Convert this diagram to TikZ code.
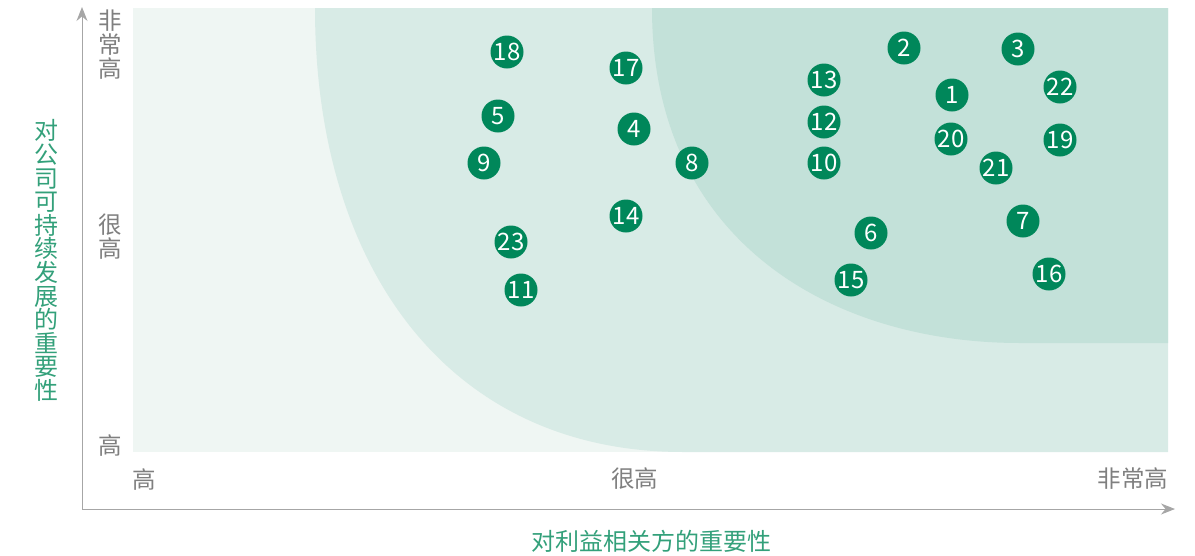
\documentclass[tikz,border=0pt]{standalone}
\usepackage{fontspec}
\setmainfont{Noto Sans CJK SC}
\usepackage{tikz}
\usetikzlibrary{arrows.meta,positioning}

\definecolor{OuterBg}{HTML}{EFF6F3}
\definecolor{MiddleBg}{HTML}{D8EBE6}
\definecolor{InnerBg}{HTML}{C3E1D9}
\definecolor{DotGreen}{HTML}{00875A}
\definecolor{TitleGreen}{HTML}{33A07A}
\definecolor{LabelGray}{HTML}{7F7F7F}
\definecolor{AxisGray}{HTML}{A6A6A6}

\begin{document}
\begin{tikzpicture}[x=1pt, y=-1pt]
		\tikzstyle{Issue}	= [circle, fill=DotGreen, text=white, minimum size=33pt, inner sep=0pt, font=\fontsize{24}{24}\selectfont]
		\tikzstyle{Level}	= [text=LabelGray, inner sep=0pt, align=center, font=\fontsize{23.5}{24}\selectfont]
		\tikzstyle{Title}	= [text=TitleGreen, inner sep=0pt, align=center, font=\fontsize{24}{23.6}\selectfont]
		\tikzstyle{Axis}	= [AxisGray, line width=1pt]
		
		\useasboundingbox (0,0) rectangle (1195,555);
		
		% zones
		\fill [OuterBg] (133,8) rectangle (1168,452);
		\fill [MiddleBg] (315,8) .. controls (315,270) and (450,452) .. (683,452) -- (1168,452) -- (1168,8) -- cycle;
		\fill [InnerBg] (652,8) .. controls (652,240) and (830,343) .. (1020,343) -- (1168,343) -- (1168,8) -- cycle;
		
		% axes
		\coordinate (ytip) at (82,7);
		\coordinate (xtip) at (1175,509);
		\draw [Axis, {Stealth[length=14pt,width=11pt]}-{Stealth[length=14pt,width=11pt]}] (ytip) |- (xtip);
		
		\node (yhigh) at (110,237) [Level] {很\\高};
		\node (yvery) at (110,44.5) [Level] {非\\常\\高};
		\node (ylow) at (110,445.5) [Level] {高};
		\node (xlow) at (144,480) [Level] {高};
		\node (xhigh) at (634.5,479) [Level] {很高};
		\node (xvery) at (1133,479) [Level] {非常高};
		
		\node (ytitle) at (46.5,260.5) [Title] {对\\公\\司\\可\\持\\续\\发\\展\\的\\重\\要\\性};
		\node (xtitle) at (651.5,541.5) [Title] {对利益相关方的重要性};
		
		% issues
		\node (i1) at (952,95) [Issue] {1};
		\node (i2) at (904,48) [Issue] {2};
		\node (i3) at (1018,49) [Issue] {3};
		\node (i4) at (634,129) [Issue] {4};
		\node (i5) at (498,116) [Issue] {5};
		\node (i6) at (871,233) [Issue] {6};
		\node (i7) at (1023,221) [Issue] {7};
		\node (i8) at (692,163) [Issue] {8};
		\node (i9) at (484,163) [Issue] {9};
		\node (i10) at (824,163) [Issue] {10};
		\node (i11) at (521,290) [Issue] {11};
		\node (i12) at (824,122) [Issue] {12};
		\node (i13) at (824,80) [Issue] {13};
		\node (i14) at (626,216) [Issue] {14};
		\node (i15) at (851,280) [Issue] {15};
		\node (i16) at (1049,274) [Issue] {16};
		\node (i17) at (626,68) [Issue] {17};
		\node (i18) at (507,52) [Issue] {18};
		\node (i19) at (1060,140) [Issue] {19};
		\node (i20) at (951,139) [Issue] {20};
		\node (i21) at (996,168) [Issue] {21};
		\node (i22) at (1060,87) [Issue] {22};
		\node (i23) at (511,242) [Issue] {23};
	\end{tikzpicture}
\end{document}
